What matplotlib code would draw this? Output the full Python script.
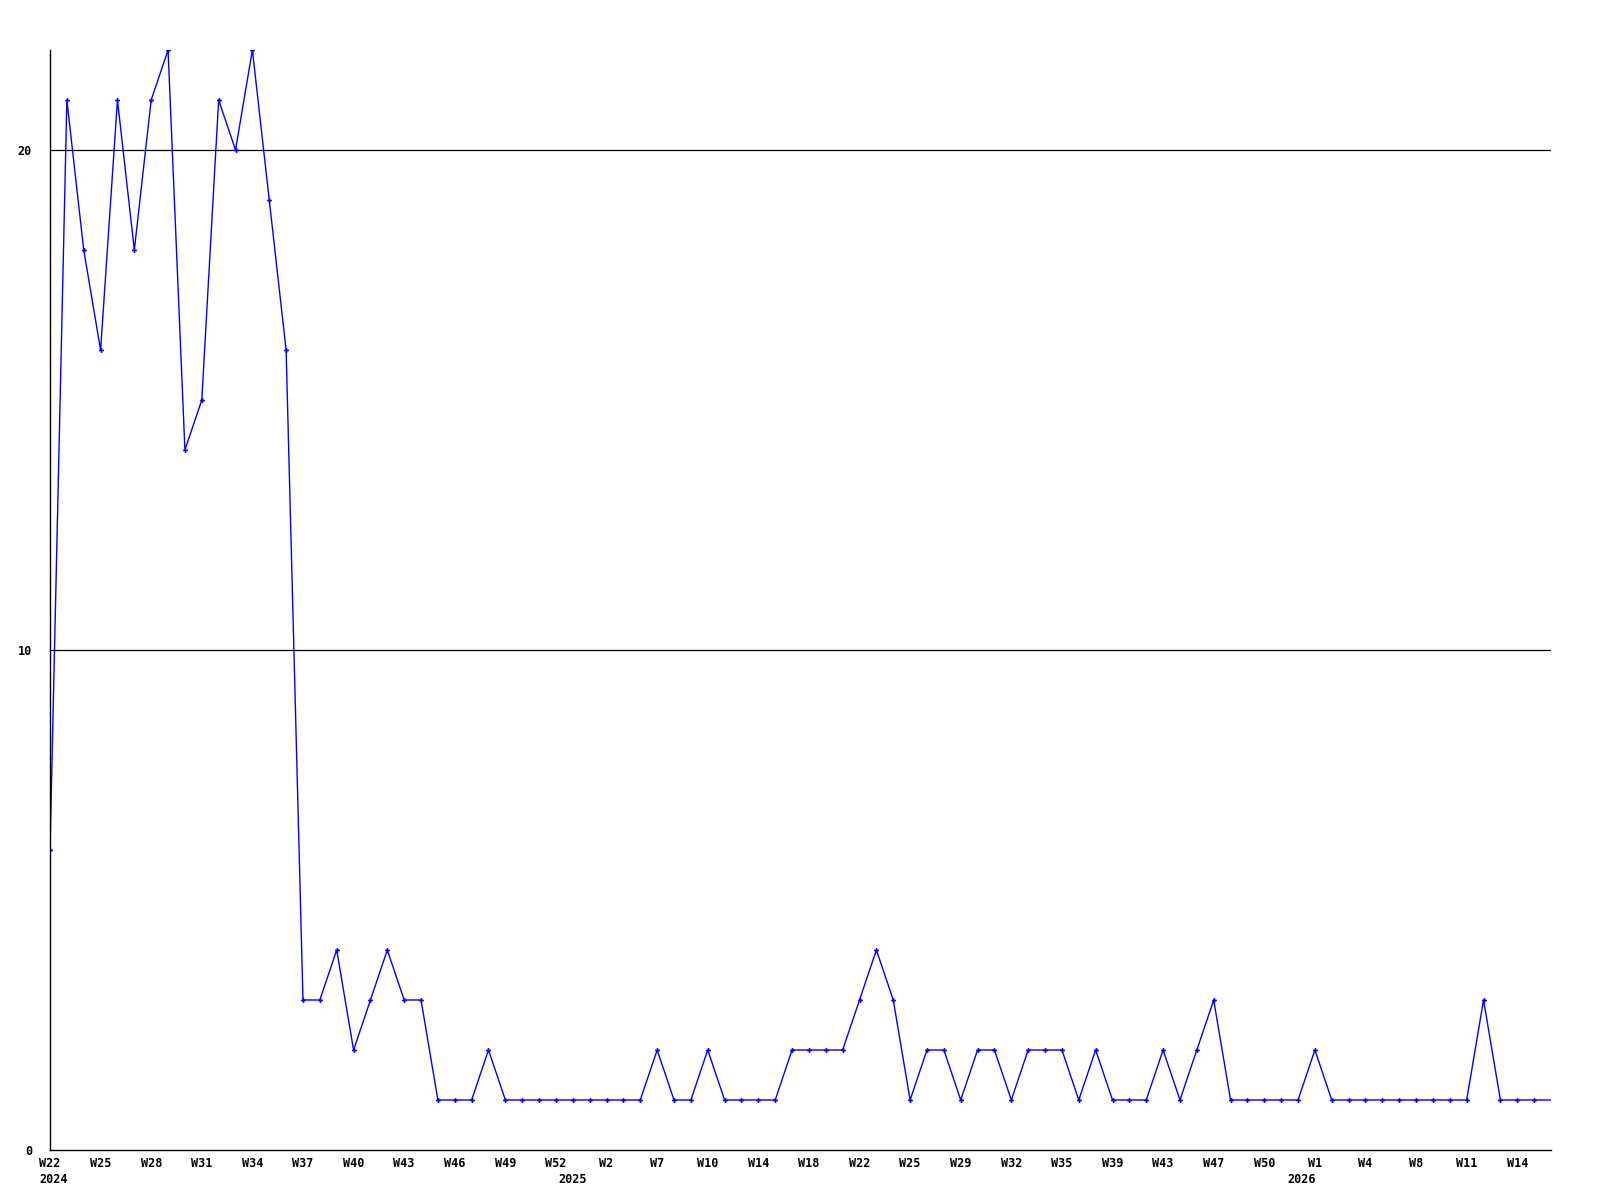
import matplotlib.pyplot as plt

# weekly counts, W22 2024 .. W16 2026 (last value continues to the edge)
values = [
    6, 21, 18, 16, 21, 18, 21, 22, 14, 15,
    21, 20, 22, 19, 16, 3, 3, 4, 2, 3,
    4, 3, 3, 1, 1, 1, 2, 1, 1, 1,
    1, 1, 1, 1, 1, 1, 2, 1, 1, 2,
    1, 1, 1, 1, 2, 2, 2, 2, 3, 4,
    3, 1, 2, 2, 1, 2, 2, 1, 2, 2,
    2, 1, 2, 1, 1, 1, 2, 1, 2, 3,
    1, 1, 1, 1, 1, 2, 1, 1, 1, 1,
    1, 1, 1, 1, 1, 3, 1, 1, 1, 1,
]
week_labels = [
    "W22", "W25", "W28", "W31", "W34", "W37", "W40", "W43", "W46", "W49",
    "W52", "W2", "W7", "W10", "W14", "W18", "W22", "W25", "W29", "W32",
    "W35", "W39", "W43", "W47", "W50", "W1", "W4", "W8", "W11", "W14",
]
years = ["2024", "2025", "2026"]
year_pos = [0.2, 31, 74.2]
y_ticks = [0, 10, 20]

font = dict(family="DejaVu Sans Mono", weight="bold", size=8.5)

fig = plt.figure(figsize=(16, 12), dpi=100)
ax = fig.add_axes([50 / 1600, 50 / 1200, 1501 / 1600, 1100 / 1200])

x = list(range(len(values)))
ax.plot(
    x,
    values,
    color="#0000ff",
    linewidth=1.0,
    marker="P",
    markersize=3.5,
    markeredgewidth=0,
    markevery=list(range(len(values) - 1)),
)

ax.set_xlim(0, len(values) - 1)
ax.set_ylim(0, 22)

for yv in y_ticks[1:]:
    ax.axhline(yv, color="black", linewidth=0.9, zorder=0)

ax.set_yticks(y_ticks)
ax.set_yticklabels([str(v) for v in y_ticks], **font)
ax.set_xticks(range(0, 3 * len(week_labels), 3))
ax.set_xticklabels(week_labels, **font)
ax.tick_params(axis="both", length=0)
ax.tick_params(axis="x", pad=5)
ax.tick_params(axis="y", pad=13)

for label, pos in zip(years, year_pos):
    ax.text(pos, -0.0205, label, transform=ax.get_xaxis_transform(),
            ha="center", va="top", **font)

for side in ("top", "right"):
    ax.spines[side].set_visible(False)
for side in ("left", "bottom"):
    ax.spines[side].set_color("black")
    ax.spines[side].set_linewidth(1.0)

fig.savefig("out.png", dpi=100)
